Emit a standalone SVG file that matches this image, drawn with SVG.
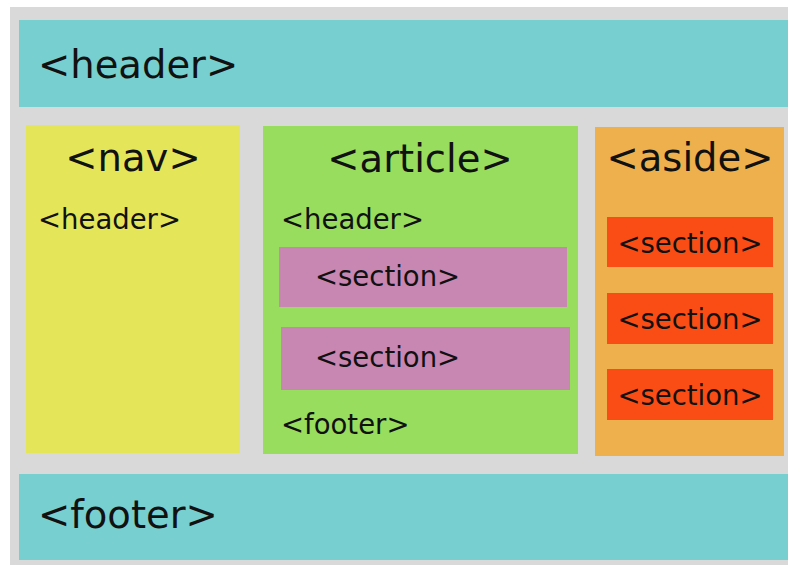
<svg xmlns="http://www.w3.org/2000/svg" width="788" height="565" viewBox="0 0 788 565">
<style>
text{font-family:"DejaVu Sans","Noto Sans",sans-serif;fill:#111;}
.big{font-size:38.5px;}
.small{font-size:27.5px;}
.mid{text-anchor:middle;}
</style>
<rect x="0" y="0" width="788" height="565" fill="#ffffff"/>
<rect id="page" x="10" y="7" width="778" height="558" fill="#d9d9d9"/>
<g id="header">
<rect x="19" y="20" width="769" height="87" fill="#77cfcf"/>
<text class="big" x="38" y="78">&lt;header&gt;</text>
</g>
<g id="nav">
<rect x="26" y="125" width="214" height="328" fill="#e5e55a"/>
<text class="big mid" x="133" y="171">&lt;nav&gt;</text>
<text class="small" x="38" y="229">&lt;header&gt;</text>
</g>
<g id="article">
<rect x="263" y="126" width="315" height="328" fill="#98dd5e"/>
<text class="big mid" x="420" y="172">&lt;article&gt;</text>
<text class="small" x="281" y="434">&lt;footer&gt;</text>
<text class="small" x="281" y="229">&lt;header&gt;</text>
</g>
<g id="article-section-1">
<rect x="279" y="247" width="288" height="60" fill="#c886b2"/>
<text class="small" x="315" y="286">&lt;section&gt;</text>
</g>
<g id="article-section-2">
<rect x="281" y="327" width="289" height="63" fill="#c886b2"/>
<text class="small" x="315" y="367">&lt;section&gt;</text>
</g>
<g id="aside">
<rect x="595" y="127" width="189" height="329" fill="#eeb04c"/>
<text class="big mid" x="690" y="171">&lt;aside&gt;</text>
</g>
<g id="aside-section-1">
<rect x="607" y="217" width="166" height="50" fill="#fa4d16"/>
<text class="small mid" x="690" y="253">&lt;section&gt;</text>
</g>
<g id="aside-section-2">
<rect x="607" y="293" width="166" height="51" fill="#fa4d16"/>
<text class="small mid" x="690" y="329">&lt;section&gt;</text>
</g>
<g id="aside-section-3">
<rect x="607" y="369" width="166" height="51" fill="#fa4d16"/>
<text class="small mid" x="690" y="405">&lt;section&gt;</text>
</g>
<g id="footer">
<rect x="19" y="474" width="769" height="86" fill="#77cfcf"/>
<text class="big" x="38" y="528">&lt;footer&gt;</text>
</g>
<g id="connectors"></g>
</svg>
